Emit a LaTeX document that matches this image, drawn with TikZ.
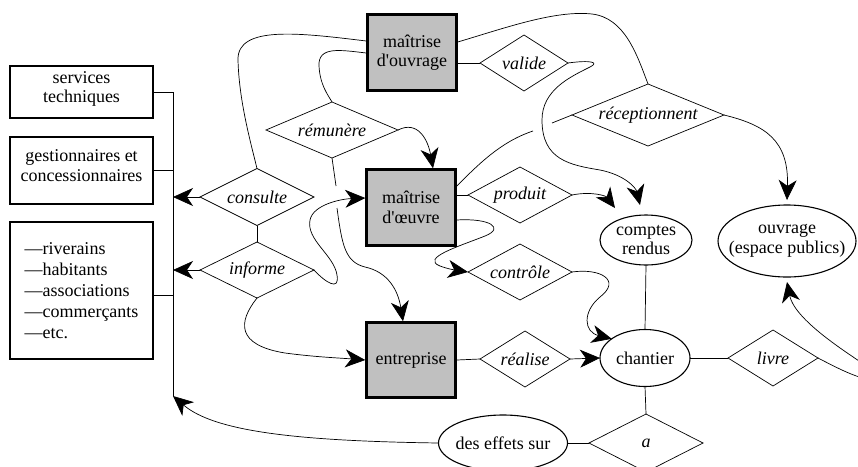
\documentclass[tikz,border=0pt]{standalone}
\usepackage{fontspec}
\setmainfont{Liberation Serif}
\usetikzlibrary{shapes.geometric,arrows.meta}
\definecolor{boxgray}{RGB}{192,192,192}
\newcommand\myfs{\fontsize{18}{19.5}\selectfont}
\tikzset{
  actor/.style={draw, line width=2.5pt, fill=boxgray, minimum width=89pt, minimum height=76pt, inner sep=0pt, align=center, font=\myfs},
  side/.style={draw, line width=1.8pt, minimum width=143pt, inner sep=0pt},
  rel/.style={draw, diamond, line width=0.7pt, fill=white, inner sep=0pt, outer sep=0pt},
  ell/.style={draw, ellipse, line width=1.1pt, fill=white, inner sep=0pt, outer sep=0pt},
  lab/.style={font=\myfs\itshape},
  labr/.style={font=\myfs, align=center},
  conn/.style={line width=0.7pt},
  arr/.style={conn, -{Stealth[length=20pt, width=18pt, inset=6pt]}},
}
\begin{document}
\begin{tikzpicture}[x=1pt, y=-1pt]
\path[use as bounding box, clip] (0,0) rectangle (858,466);

% actors
\node[actor] (mo) at (412,52.5) {maîtrise\\d\textquotesingle ouvrage};
\node[actor] (moe) at (411,207.5) {maîtrise\\d\textquotesingle œuvre};
\node[actor, minimum height=75pt] (ent) at (411,360) {entreprise};

% left boxes
\node[side, minimum height=52pt, label={[labr, yshift=3pt]center:services\\techniques}] (st) at (81.5,92) {};
\node[side, minimum height=67pt, label={[labr, yshift=5pt]center:gestionnaires et\\concessionnaires}] (gc) at (81.5,170.5) {};
\node[side, minimum height=137pt, align=left, font=\fontsize{18}{21}\selectfont] (lst) at (81.5,290.5) {—riverains\\—habitants\\—associations\\—commerçants\\—etc.};

% relations
\node[rel, minimum width=114pt, minimum height=57pt, label={[lab]center:consulte}] (consulte) at (257,197) {};
\node[rel, minimum width=114pt, minimum height=56pt, label={[lab]center:informe}] (informe) at (257,270) {};
\node[rel, minimum width=132pt, minimum height=56pt, label={[lab]center:rémunère}] (remunere) at (332,130) {};
\node[rel, minimum width=88pt, minimum height=56pt, label={[lab]center:valide}] (valide) at (524,63) {};
\node[rel, minimum width=152pt, minimum height=62pt, label={[lab]center:réceptionnent}] (recep) at (648,115) {};
\node[rel, minimum width=104pt, minimum height=56pt, label={[lab]center:produit}] (produit) at (520,195) {};
\node[rel, minimum width=104pt, minimum height=56pt, label={[lab]center:contrôle}] (controle) at (520,272) {};
\node[rel, minimum width=90pt, minimum height=56pt, label={[lab]center:réalise}] (realise) at (525,359) {};
\node[rel, minimum width=90pt, minimum height=56pt, label={[lab]center:livre}] (livre) at (773,358) {};
\node[rel, minimum width=114pt, minimum height=58pt, label={[lab]center:a}] (a) at (646,443) {};

% entities (ellipses)
\node[ell, minimum width=92pt, minimum height=50pt, label={[labr]center:comptes\\rendus}] (cr) at (646,240) {};
\node[ell, minimum width=138pt, minimum height=72pt, label={[labr]center:ouvrage\\(espace publics)}] (ouv) at (787,241) {};
\node[ell, minimum width=90pt, minimum height=57pt, label={[labr]center:chantier}] (chantier) at (645,358) {};
\node[ell, minimum width=129pt, minimum height=56pt, label={[labr]center:des effets sur}] (effets) at (503,443) {};

% bus coordinates and gap coordinates
\coordinate (bust) at (173,92);
\coordinate (busb) at (173,396);
\coordinate (busc) at (173,197);
\coordinate (busi) at (173,270);
\coordinate (g1) at (336,186);
\coordinate (g2) at (337,208);
\coordinate (g3) at (533,131);
\coordinate (g4) at (552,123);

% bus
\draw[conn] (bust) -- (busb);
\draw[conn] (st.east) -- (st.east -| bust);
\draw[conn] (gc.east) -- (gc.east -| bust);
\draw[conn] ([yshift=-4.5pt]lst.east) -- ([yshift=-4.5pt]lst.east -| bust);
\draw[arr] (consulte.west) -- (busc);
\draw[arr] (informe.west) -- (busi);
\draw[conn] (consulte.south) -- (informe.north);

% maitrise d'ouvrage links
\draw[conn] ([yshift=11.5pt]mo.west) .. controls (300,33) and (237,25) .. (238,60) .. controls (239,100) and (250,140) .. (consulte.north);
\draw[conn] ([yshift=-0.5pt]mo.west) .. controls (340,50) and (318,46) .. (319,66) .. controls (320,85) and (328,95) .. (remunere.north);
\draw[arr] (remunere.east) .. controls (418,120) and (428,140) .. ([xshift=22pt]moe.north);
\draw[conn] (remunere.south) -- (g1);
\draw[arr] (g2) .. controls (342,245) and (345,262) .. (365,267) .. controls (388,272) and (398,290) .. ([xshift=-8pt]ent.north);
\draw[arr] (informe.east) .. controls (325,282) and (340,292) .. (337,275) .. controls (334,255) and (306,240) .. (310,220) .. controls (313,205) and (340,199) .. ([yshift=9.5pt]moe.west);
\draw[arr] (informe.south) .. controls (238,322) and (236,345) .. (285,353) .. controls (315,357) and (340,358) .. (ent.west);

\draw[conn] ([yshift=10.5pt]mo.east) .. controls (505,28) and (555,10) .. (592,14) .. controls (625,18) and (637,55) .. (recep.north);
\draw[conn] (mo.east |- valide.west) -- (valide.west);
\draw[arr] (valide.east) .. controls (590,60) and (600,62) .. (590,67) .. controls (570,77) and (542,90) .. (542,120) .. controls (542,160) and (570,165) .. (600,170) .. controls (625,175) and (636,188) .. ([xshift=-6pt, yshift=10pt]cr.north);
\draw[conn] ([yshift=21.5pt]moe.east) .. controls (478,165) and (500,142) .. (g3);
\draw[conn] (g4) -- (recep.west);
\draw[arr] (recep.east) .. controls (765,125) and (789,140) .. ([yshift=5pt]ouv.north);

% maitrise d'oeuvre links
\draw[conn] (moe.east |- produit.west) -- (produit.west);
\draw[arr] (produit.east) .. controls (592,191) and (606,196) .. ([xshift=-6pt, yshift=11pt]cr.140);
\draw[arr] ([yshift=-12.5pt]moe.east) .. controls (490,218) and (505,228) .. (485,236) .. controls (460,246) and (420,258) .. (440,266) .. controls (448,269) and (455,270) .. (controle.west);
\draw[arr] (controle.east) .. controls (600,268) and (622,280) .. (600,297) .. controls (582,312) and (584,332) .. (chantier.150);

% chantier links
\draw[conn] (cr.south) -- (chantier.north);
\draw[conn] (ent.east) -- (realise.west);
\draw[arr] (realise.east) -- (chantier.west);
\draw[conn] (chantier.east) -- (livre.west);
\draw[conn] (chantier.south) -- (a.north);
\draw[conn] (a.west) -- (effets.east);
\draw[arr] (effets.west) .. controls (300,441) and (215,432) .. (busb);
\draw[arr] (livre.east) .. controls (845,372) and (870,385) .. (885,378) .. controls (855,358) and (795,322) .. ([yshift=-5pt]ouv.south);
\end{tikzpicture}
\end{document}
